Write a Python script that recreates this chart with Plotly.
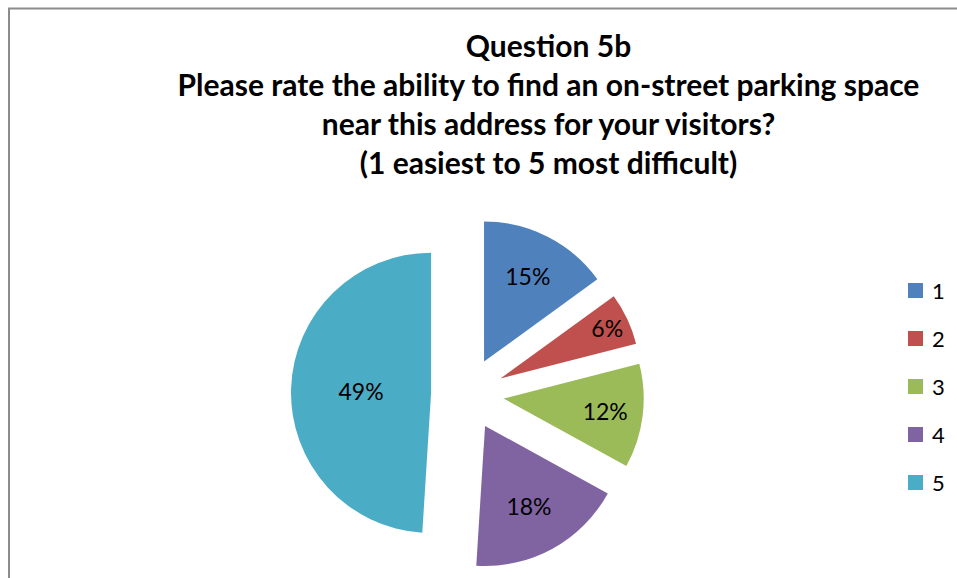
import plotly.graph_objects as go

# Survey responses for Question 5b (share of respondents per rating)
ratings = ["1", "2", "3", "4", "5"]
shares = [15, 6, 12, 18, 49]
colors = ["#4F81BD", "#C0504D", "#9BBB59", "#8064A2", "#4BACC6"]

title_lines = [
    "Question 5b",
    "Please rate the ability to find an on-street parking space",
    "near this address for your visitors?",
    "(1 easiest to 5 most difficult)",
]

W, H = 957, 578
FONT = "Lato"

fig = go.Figure()
fig.add_trace(go.Pie(
    labels=ratings,
    values=shares,
    sort=False,
    direction="clockwise",
    rotation=0,
    pull=[0.26] * len(shares),
    marker=dict(colors=colors, line=dict(width=0)),
    textinfo="percent",
    texttemplate="%{percent:.0%}",
    textposition="inside",
    insidetextorientation="horizontal",
    textfont=dict(family=FONT, size=23, color="black"),
    showlegend=False,
    domain=dict(x=[291 / W, 644 / W], y=[1 - 570.5 / H, 1 - 217.5 / H]),
))

# Legend: colour swatch plus rating label, one row per rating
shapes = []
annotations = []
for i, (lab, col) in enumerate(zip(ratings, colors)):
    cy = 290.5 + 48 * i
    shapes.append(dict(
        type="rect", xref="paper", yref="paper",
        x0=908 / W, x1=923 / W, y0=1 - (cy - 7.5) / H, y1=1 - (cy + 7.5) / H,
        fillcolor=col, line=dict(width=0),
    ))
    annotations.append(dict(
        x=930 / W, y=1 - cy / H, xref="paper", yref="paper",
        text=lab, showarrow=False, xanchor="left", yanchor="middle",
        font=dict(family=FONT, size=22, color="black"),
    ))

# Chart area border
shapes.append(dict(
    type="rect", xref="paper", yref="paper",
    x0=9 / W, x1=1.05, y0=1 - 8.5 / H, y1=-0.05,
    line=dict(color="#8C8C8C", width=2), fillcolor="rgba(0,0,0,0)",
    layer="below",
))

fig.update_layout(
    width=W, height=H,
    margin=dict(l=0, r=0, t=0, b=0),
    paper_bgcolor="white",
    plot_bgcolor="white",
    title=dict(
        text="<b>" + "<br>".join(title_lines) + "</b>",
        x=548.5 / W, xanchor="center",
        y=1 - 57 / H, yanchor="top",
        font=dict(family=FONT, size=30, color="black"),
    ),
    shapes=shapes,
    annotations=annotations,
)

fig.write_html("out.html")
